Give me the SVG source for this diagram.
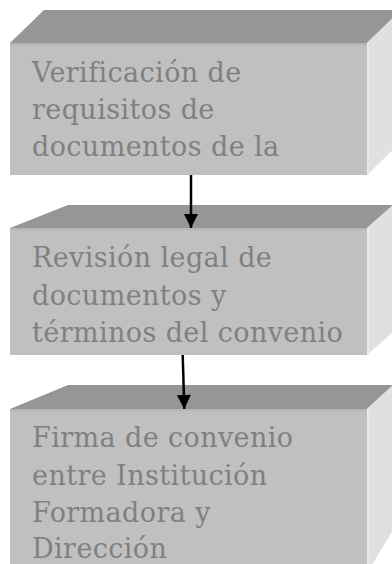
<svg xmlns="http://www.w3.org/2000/svg" width="392" height="564" viewBox="0 0 392 564">
  <defs>
    <style>
      .top { fill: #969696; }
      .side { fill: #e0e0e0; }
      .front { fill: #c0c0c0; }
      .hl { stroke: #b0b0b0; stroke-width: 1.5; fill: none; }
      .hls { stroke: #ececec; stroke-width: 1.5; fill: none; }
      .txt { font-family: "DejaVu Serif", serif; font-size: 27px; letter-spacing: 0.4px; fill: #808080; }
      .conn { stroke: #000; stroke-width: 2.5; fill: none; }
    </style>
    <marker id="arrow" markerUnits="userSpaceOnUse" markerWidth="16" markerHeight="16" viewBox="0 0 14 16" refX="14" refY="7" orient="auto">
      <path d="M0,0 L14,7 L0,14 Z" fill="#000"/>
    </marker>
  </defs>
  <rect x="0" y="0" width="392" height="564" fill="#fff"/>

  <g id="node1">
    <polygon class="top" points="10,43 44,10 401,10 367,43"/>
    <polygon class="side" points="367,43 401,10 401,142 367,175"/>
    <rect class="front" x="10" y="43" width="357" height="132"/>
    <line class="hl" x1="10" y1="44" x2="367" y2="44"/>
    <line class="hls" x1="368" y1="43" x2="368" y2="175"/>
    <text class="txt"><tspan x="32" y="82">Verificación de</tspan><tspan x="32" y="119">requisitos de</tspan><tspan x="32" y="156">documentos de la</tspan></text>
  </g>

  <g id="node2">
    <polygon class="top" points="10,228 68,205 393,205 367,228"/>
    <polygon class="side" points="367,228 393,205 393,332 367,355"/>
    <rect class="front" x="10" y="228" width="357" height="127"/>
    <line class="hl" x1="10" y1="229" x2="367" y2="229"/>
    <line class="hls" x1="368" y1="228" x2="368" y2="355"/>
    <text class="txt"><tspan x="32" y="267">Revisión legal de</tspan><tspan x="32" y="305">documentos y</tspan><tspan x="32" y="342">términos del convenio</tspan></text>
  </g>

  <g id="node3">
    <polygon class="top" points="10,409 68,385 393,385 367,409"/>
    <polygon class="side" points="367,409 393,385 393,530 367,573"/>
    <rect class="front" x="10" y="409" width="357" height="170"/>
    <line class="hl" x1="10" y1="410" x2="367" y2="410"/>
    <line class="hls" x1="368" y1="409" x2="368" y2="575"/>
    <text class="txt"><tspan x="32" y="447">Firma de convenio</tspan><tspan x="32" y="485">entre Institución</tspan><tspan x="32" y="522">Formadora y</tspan><tspan x="32" y="558">Dirección</tspan></text>
  </g>

  <g id="connectors">
    <path class="conn" d="M191,175 L191,228" marker-end="url(#arrow)"/>
    <path class="conn" d="M182.7,355 L184.3,409" marker-end="url(#arrow)"/>
  </g>
</svg>
